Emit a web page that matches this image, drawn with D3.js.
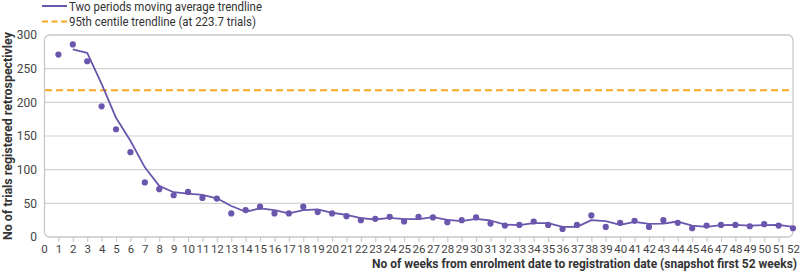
<!DOCTYPE html>
<html>
<head>
<meta charset="utf-8">
<script src="https://cdn.jsdelivr.net/npm/d3@7"></script>
<style>
  html, body { margin: 0; padding: 0; background: #fff; }
  svg { display: block; font-family: Roboto, "Noto Sans", sans-serif; }
</style>
</head>
<body>
<div id="chart"></div>
<script>
// weeks from enrolment to registration, and trials registered retrospectively
const WEEKS = d3.range(1, 53);
const TRIALS = [
  271, 286, 261, 194, 160, 126, 81, 71, 62, 67,
  58, 57, 35, 40, 45, 35, 35, 45, 37, 35,
  31, 25, 27, 30, 23, 30, 29, 22, 25, 29,
  20, 17, 18, 23, 18, 12, 18, 32, 15, 21,
  24, 15, 25, 21, 13, 17, 18, 18, 16, 19,
  17, 13
];
const CENTILE_95 = 218; // where the dashed line sits in the picture
const Y_TICKS = [0, 50, 100, 150, 200, 250, 300];
const X_TICKS = d3.range(0, 53);

const LEGEND = [
  { label: "Two periods moving average trendline", dashed: false },
  { label: "95th centile trendline (at 223.7 trials)", dashed: true }
];

const PURPLE = "#6a56ad";
const ORANGE = "#f7a825";

const width = 800, height = 273;
const margin = { top: 35, right: 7, bottom: 36, left: 44 };

const svg = d3.select("#chart").append("svg")
  .attr("width", width)
  .attr("height", height);

const x = d3.scaleLinear().domain([0, 52]).range([margin.left, width - margin.right]);
const y = d3.scaleLinear().domain([0, 300]).range([height - margin.bottom, margin.top]);

// two period moving average, starting at week 2
const trend = WEEKS.slice(1).map((w, i) => ({ w, v: (TRIALS[i] + TRIALS[i + 1]) / 2 }));

// ------------------------------
// gridlines + frame
// ------------------------------
svg.append("g")
  .selectAll("line")
  .data(Y_TICKS.filter(d => d > 0 && d < 300))
  .join("line")
  .attr("x1", x(0) + 1).attr("x2", x(52) - 1)
  .attr("y1", d => y(d)).attr("y2", d => y(d))
  .attr("stroke", "#d2d2d2")
  .attr("stroke-width", 1.2);

svg.append("rect")
  .attr("x", x(0) + 0.5)
  .attr("y", y(300))
  .attr("width", x(52) - x(0) - 0.5)
  .attr("height", y(0) - y(300))
  .attr("rx", 5)
  .attr("fill", "none")
  .attr("stroke", "#c8c8c8")
  .attr("stroke-width", 1.3);

// x axis ticks and labels
const xAxis = svg.append("g")
  .attr("transform", `translate(0,${y(0)})`)
  .call(d3.axisBottom(x).tickValues(X_TICKS).tickSize(5).tickSizeOuter(0).tickFormat(d3.format("d")));
xAxis.select(".domain").remove();
xAxis.selectAll(".tick line")
  .attr("stroke", "#c8c8c8")
  .attr("stroke-width", 1.1)
  .attr("display", d => (d === 0 || d === 52) ? "none" : null);
xAxis.selectAll(".tick text")
  .attr("y", 8)
  .attr("fill", "#444")
  .attr("font-size", 11.5)
  .attr("font-family", "Roboto, sans-serif");

// y axis labels
const yAxis = svg.append("g")
  .attr("transform", `translate(${x(0)},0)`)
  .call(d3.axisLeft(y).tickValues(Y_TICKS).tickSize(0).tickPadding(7));
yAxis.select(".domain").remove();
yAxis.selectAll(".tick text")
  .attr("fill", "#444")
  .attr("font-size", 12)
  .attr("font-family", "Roboto, sans-serif");

// ------------------------------
// 95th centile dashed line
// ------------------------------
svg.append("line")
  .attr("x1", x(0) + 1).attr("x2", x(52) - 1)
  .attr("y1", y(CENTILE_95)).attr("y2", y(CENTILE_95))
  .attr("stroke", ORANGE)
  .attr("stroke-width", 2)
  .attr("stroke-dasharray", "7,4");

// moving average line
svg.append("path")
  .datum(trend)
  .attr("fill", "none")
  .attr("stroke", PURPLE)
  .attr("stroke-width", 1.8)
  .attr("stroke-linejoin", "round")
  .attr("d", d3.line().x(d => x(d.w)).y(d => y(d.v)));

// points
svg.append("g")
  .selectAll("circle")
  .data(WEEKS.map((w, i) => ({ w, v: TRIALS[i] })))
  .join("circle")
  .attr("cx", d => x(d.w))
  .attr("cy", d => y(d.v))
  .attr("r", 3.1)
  .attr("fill", PURPLE);

// ------------------------------
// axis titles
// ------------------------------
svg.append("text")
  .attr("x", width - 3)
  .attr("y", 268)
  .attr("text-anchor", "end")
  .attr("font-size", 12)
  .attr("font-weight", 700)
  .attr("fill", "#333")
  .attr("textLength", 425)
  .attr("lengthAdjust", "spacingAndGlyphs")
  .text("No of weeks from enrolment date to registration date (snapshot first 52 weeks)");

svg.append("text")
  .attr("transform", "rotate(-90)")
  .attr("x", -136)
  .attr("y", 12)
  .attr("text-anchor", "middle")
  .attr("font-size", 12.5)
  .attr("font-weight", 700)
  .attr("fill", "#333")
  .attr("textLength", 208)
  .attr("lengthAdjust", "spacingAndGlyphs")
  .text("No of trials registered retrospectivley");

// ------------------------------
// legend
// ------------------------------
const legend = svg.append("g").attr("transform", "translate(42,6)");
const rows = legend.selectAll("g")
  .data(LEGEND)
  .join("g")
  .attr("transform", (d, i) => `translate(0,${i * 15.5})`);

rows.append("line")
  .attr("x1", 0).attr("x2", 25)
  .attr("stroke", d => d.dashed ? ORANGE : PURPLE)
  .attr("stroke-width", 2)
  .attr("stroke-dasharray", d => d.dashed ? "6,3.5" : null);

rows.append("text")
  .attr("x", 27)
  .attr("y", 4.5)
  .attr("font-size", 13)
  .attr("fill", "#333")
  .attr("textLength", (d, i) => i === 0 ? 193 : 187)
  .attr("lengthAdjust", "spacingAndGlyphs")
  .text(d => d.label);
</script>
</body>
</html>
